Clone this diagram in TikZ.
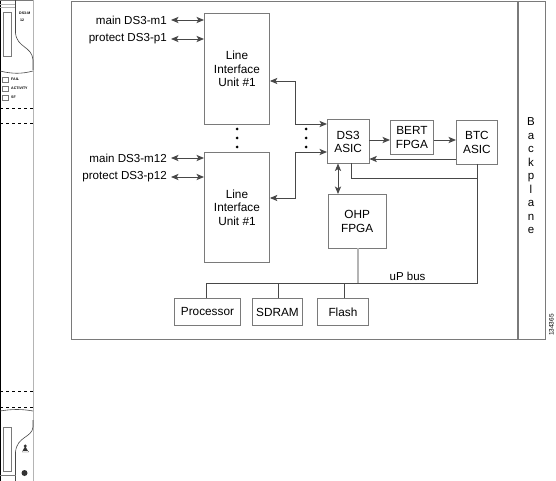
\documentclass[tikz,border=0pt]{standalone}
\usepackage{fontspec}
\setmainfont{Liberation Sans}
\usetikzlibrary{arrows.meta}
\definecolor{CardGray}{HTML}{B4B4B4}
\definecolor{BoxGray}{HTML}{7A7A7A}
\definecolor{WireGray}{HTML}{484848}
\tikzset{
  block/.style={draw=BoxGray,line width=0.9pt,anchor=north west,inner sep=0pt,align=center,font=\fontsize{11.8}{13.4}\selectfont},
  sigtext/.style={anchor=east,inner sep=0pt,font=\fontsize{11.6}{13}\selectfont},
  wire/.style={draw=WireGray,line width=0.9pt},
  tiny/.style={anchor=west,inner sep=0pt,font=\fontsize{3.6}{4}\bfseries\selectfont},
}
\begin{document}
\begin{tikzpicture}[x=1pt,y=-1pt,>={Stealth[length=7.5pt,width=6.2pt,inset=1.8pt]}]
  \useasboundingbox (0,0) rectangle (556,481);
  % line card faceplate
  \draw[CardGray,line width=1.6pt] (33.5,0)--(33.5,481);
  \draw[black,line width=0.8pt] (0.4,0)--(0.4,481);
  \draw[BoxGray,line width=0.7pt] (0,0.5)--(33,0.5);
  \draw[CardGray,line width=0.9pt] (0,4.5)--(15,4.5) (0,7)--(15,7);
  \draw[BoxGray,line width=0.7pt] (3.5,12.5) rectangle (11.5,56);
  \draw[WireGray,line width=0.6pt] (15.5,0)--(15.5,33) .. controls (17,48) and (32,46) .. (33,60)--(33,70);
  \draw[WireGray,line width=0.6pt] (0,71) .. controls (12,74) and (22,74) .. (33,71);
  \node[tiny] (cardname) at (19,13) {DS3-M};
  \node[tiny] (cardport) at (20,20) {12};
  \foreach \y/\t in {77/FAIL,86/ACTIVITY,95/SF}{
    \draw[BoxGray,line width=0.6pt] (2.5,\y) rectangle (8,\y+5);
    \node[tiny] at (11,\y+2.7) {\t};}
  \foreach \y in {108,123.5,391,407}{
    \draw[black,dashed,line width=0.5pt] (0,\y)--(33,\y);}
  \draw[WireGray,line width=0.6pt] (0,411) .. controls (12,409) and (22,409) .. (33,411);
  \draw[WireGray,line width=0.6pt] (33,420)--(33,427) .. controls (32,438) and (17,436) .. (15.5,452)--(15.5,481);
  \draw[BoxGray,line width=0.7pt] (3.5,427) rectangle (11.5,471);
  \draw[BoxGray,line width=0.6pt] (0,475.5)--(15.5,475.5);
  \fill[black!80] (25.2,446) circle (1.6pt) (22,452) rectangle (28.5,451) (25.2,446)--(22,452)--(28.5,452)--cycle;
  \fill[black!80] (24.5,473) circle (3pt);
  % board and backplane
  \draw[BoxGray,line width=0.9pt] (71,1) rectangle (545,339);
  \draw[BoxGray,line width=1.4pt] (518,1)--(518,339);
  \node[align=center,inner sep=0pt,font=\fontsize{11.5}{13.5}\selectfont] (backplane) at (531,176)
    {B\\a\\c\\k\\p\\l\\a\\n\\e};
  % blocks
  \node[block,minimum width=65pt,minimum height=111pt] (liuA) at (204,13) {Line\\Interface\\Unit \#1};
  \node[block,minimum width=65pt,minimum height=110pt] (liuB) at (204,152) {Line\\Interface\\Unit \#1};
  \node[block,minimum width=41.5pt,minimum height=44pt] (ds3) at (327,119.5) {DS3\\ASIC};
  \node[block,minimum width=43pt,minimum height=34pt] (bert) at (390,120) {BERT\\FPGA};
  \node[block,minimum width=41pt,minimum height=44pt] (btc) at (456,120) {BTC\\ASIC};
  \node[block,minimum width=57.5pt,minimum height=54pt] (ohp) at (328,194) {OHP\\FPGA};
  \node[block,minimum width=66pt,minimum height=27pt] (proc) at (174,298) {Processor};
  \node[block,minimum width=50pt,minimum height=27pt] (sdram) at (252,298) {SDRAM};
  \node[block,minimum width=51pt,minimum height=27pt] (flash) at (317,298) {Flash};
  % line side signals
  \foreach \n/\y/\t/\b in {ma/20/main DS3-m1/liuA,pa/39/protect DS3-p1/liuA,mb/158/main DS3-m12/liuB,pb/177/protect DS3-p12/liuB}{
    \node[sigtext] (\n) at (167,\y) {\t};
    \coordinate (\n end) at (\b.west |- 0,\y);
    \draw[wire,<->] (\n.east)++(4,0)--(\n end);}
  % dots
  \foreach \x in {237,306}{
    \foreach \y in {129,138,147}{
      \fill[black] (\x,\y) circle (1.5pt);}}
  % connectors
  \coordinate (liuAin) at (liuA.east |- 0,81);
  \coordinate (ds3up) at (ds3.west |- 0,124);
  \coordinate (liuBin) at (liuB.east |- 0,198);
  \coordinate (ds3low) at (ds3.west |- 0,152);
  \draw[wire,<->] (liuAin)-|(295,124)--(ds3up);
  \draw[wire,<->] (liuBin)-|(295,152)--(ds3low);
  \coordinate (ds3out) at (ds3.east |- 0,140);
  \coordinate (bertin) at (bert.west |- 0,140);
  \coordinate (bertout) at (bert.east |- 0,140);
  \coordinate (btcin) at (btc.west |- 0,140);
  \coordinate (btcback) at (btc.west |- 0,159);
  \coordinate (ds3back) at (ds3.east |- 0,159);
  \draw[wire,->] (ds3out)--(bertin);
  \draw[wire,->] (bertout)--(btcin);
  \draw[wire,->] (btcback)--(ds3back);
  \coordinate (ds3bot) at (338,163.5);
  \coordinate (ohptop) at (338,194);
  \draw[wire,<->] (ds3bot)--(ohptop);
  % uP bus
  \coordinate (btcfoot) at (477,164);
  \coordinate (ds3foot) at (351,163.5);
  \draw[wire] (ds3foot)|-(477,178);
  \draw[wire] (btcfoot)--(477,283)--(206,283)--(proc.north -| 206,0);
  \draw[wire] (278,283)--(sdram.north -| 278,0);
  \draw[wire] (344,283)--(flash.north -| 344,0);
  \coordinate (ohpfoot) at (358,248);
  \draw[CardGray,line width=1.2pt] (ohpfoot)--(358,283);
  \node[anchor=west,inner sep=0pt,font=\fontsize{11.5}{13}\selectfont] (busname) at (389.5,276) {uP bus};
  \node[rotate=90,inner sep=0pt,font=\fontsize{6.5}{7}\selectfont] (figno) at (551.5,325) {134365};
\end{tikzpicture}
\end{document}
